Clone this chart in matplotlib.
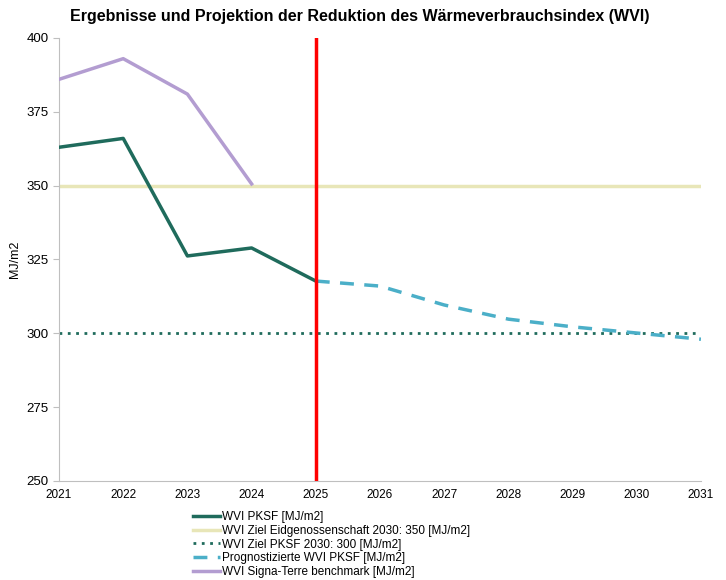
import matplotlib
matplotlib.use("Agg")
import matplotlib.pyplot as plt

years_hist = [2021, 2022, 2023, 2024, 2025]
wvi_pksf = [363, 366, 326.2, 328.9, 317.7]
years_bench = [2021, 2022, 2023, 2024]
wvi_bench = [386, 393, 381, 350.6]
years_fc = [2025, 2026, 2027, 2028, 2029, 2030, 2031]
wvi_fc = [317.7, 316.0, 309.6, 304.8, 302.2, 300.1, 298.0]
ziel_bund = 350
ziel_pksf = 300
year_now = 2025
x_ticks = list(range(2021, 2032))
y_ticks = [250, 275, 300, 325, 350, 375, 400]

plt.rcParams['font.family'] = ['Liberation Sans', 'DejaVu Sans']

fig = plt.figure(figsize=(7.26, 5.80), dpi=100)
ax = fig.add_axes([0.0813, 0.1707, 0.8842, 0.7638])

ax.plot(years_hist, wvi_pksf, color="#1f6b5c", lw=2.5, label="WVI PKSF [MJ/m2]", zorder=3)
ax.axhline(ziel_bund, color="#e8e6b8", lw=2.5, label="WVI Ziel Eidgenossenschaft 2030: 350 [MJ/m2]", zorder=2)
ax.axhline(ziel_pksf, color="#1f6b5c", lw=2, ls=(0, (1, 2)), label="WVI Ziel PKSF 2030: 300 [MJ/m2]", zorder=2)
ax.plot(years_fc, wvi_fc, color="#4bafc8", lw=2.5, ls=(0, (4, 3)), label="Prognostizierte WVI PKSF [MJ/m2]", zorder=3)
ax.plot(years_bench, wvi_bench, color="#b39dd1", lw=2.5, label="WVI Signa-Terre benchmark [MJ/m2]", zorder=3)
ax.axvline(year_now, color="#ff0000", lw=2.5, zorder=4)

ax.set_xlim(2021, 2031)
ax.set_ylim(250, 400)
ax.set_xticks(x_ticks)
ax.set_yticks(y_ticks)
ax.tick_params(axis='x', length=0, labelsize=8.5, pad=6)
ax.tick_params(axis='y', length=4, color="#bfbfbf", labelsize=9.5)
for s in ['top', 'right']:
    ax.spines[s].set_visible(False)
for s in ['left', 'bottom']:
    ax.spines[s].set_color("#bfbfbf")
ax.set_ylabel("MJ/m2", fontsize=9, labelpad=4)

fig.suptitle("Ergebnisse und Projektion der Reduktion des Wärmeverbrauchsindex (WVI)",
             x=0.495, y=0.985, fontsize=11.5, fontweight='bold')

ax.legend(loc='upper left', bbox_to_anchor=(0.2, -0.055), frameon=False, fontsize=8.5,
          handlelength=2.3, handletextpad=0.15, labelspacing=0.14, borderpad=0)

fig.savefig("out.png", dpi=100)
